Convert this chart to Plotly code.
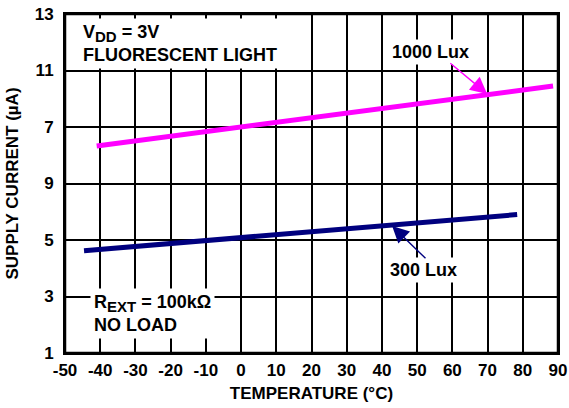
import plotly.graph_objects as go

# Data (y in axis position units)
temp_1000 = [-41, 0, 40, 88.6]
curr_1000 = [8.33, 9.0, 9.66, 10.45]
temp_300 = [-44.6, 0, 40, 78.4]
curr_300 = [4.62, 5.08, 5.5, 5.9]

x_tickvals = list(range(-50, 100, 10))
x_ticktext = ["-50", "-40", "-30", "-20", "-10", "0", "10", "20", "30", "40",
              "50", "60", "70", "80", "90"]
y_tickvals = [1, 3, 5, 7, 9, 11, 13]
y_ticktext = ["1", "3", "5", "9", "7", "11", "13"]

FONT = "Liberation Sans, Arial, sans-serif"

fig = go.Figure()
fig.add_trace(go.Scatter(x=temp_1000, y=curr_1000, mode="lines",
                         line=dict(color="#ff00ff", width=5), showlegend=False))
fig.add_trace(go.Scatter(x=temp_300, y=curr_300, mode="lines",
                         line=dict(color="#00007f", width=5), showlegend=False))

axis_common = dict(showgrid=True, gridcolor="black", gridwidth=2,
                   showline=True, linecolor="black", linewidth=2, mirror=True,
                   ticks="outside", tickcolor="rgba(0,0,0,0)", zeroline=False,
                   automargin=False,
                   tickfont=dict(family=FONT, size=17, color="black", weight="bold"))

fig.update_xaxes(range=[-50, 90], tickvals=x_tickvals, ticktext=x_ticktext, ticklen=1,
                 title=dict(text="TEMPERATURE (°C)", standoff=8,
                            font=dict(family=FONT, size=17, color="black", weight="bold")),
                 **axis_common)
fig.update_yaxes(range=[1, 13], tickvals=y_tickvals, ticktext=y_ticktext, ticklen=6,
                 title=dict(text="SUPPLY CURRENT (µA)", standoff=12,
                            font=dict(family=FONT, size=17, color="black", weight="bold")),
                 **axis_common)

afont = dict(family=FONT, size=18, color="black", weight="bold")
sub = "<sub><span style='font-size:15px'>{}</span></sub>"
ann = [
    dict(x=-46, y=11.95, xref="x", yref="y",
         text="V" + sub.format("DD") + " = 3V<br>FLUORESCENT LIGHT",
         showarrow=False, xanchor="left", yanchor="middle", align="left",
         bgcolor="white", font=afont, borderpad=3),
    dict(x=-43, y=2.4, xref="x", yref="y",
         text="R" + sub.format("EXT") + " = 100kΩ<br>NO LOAD",
         showarrow=False, xanchor="left", yanchor="middle", align="left",
         bgcolor="white", font=afont, borderpad=3),
    dict(x=53.7, y=11.65, xref="x", yref="y", text="1000 Lux", showarrow=False,
         bgcolor="white", font=afont, borderpad=2),
    dict(x=51.7, y=3.94, xref="x", yref="y", text="300 Lux", showarrow=False,
         bgcolor="white", font=afont, borderpad=2),
    dict(x=69.9, y=10.17, xref="x", yref="y", ax=59.0, ay=11.3, axref="x", ayref="y",
         text="", showarrow=True, arrowhead=2, arrowsize=2.4, arrowwidth=1.4,
         arrowcolor="#ff00ff"),
    dict(x=42.9, y=5.5, xref="x", yref="y", ax=52.8, ay=4.3, axref="x", ayref="y",
         text="", showarrow=True, arrowhead=2, arrowsize=2.4, arrowwidth=1.4,
         arrowcolor="#00007f"),
]
fig.update_layout(annotations=ann, width=569, height=408,
                  margin=dict(l=65, r=11, t=14, b=55),
                  plot_bgcolor="white", paper_bgcolor="white",
                  shapes=[dict(type="rect", xref="paper", yref="paper", x0=0, x1=1, y0=0, y1=1,
                               line=dict(color="black", width=2.5), layer="above")])

fig.write_html("out.html", config={"displayModeBar": False},
               post_script="document.body.style.margin='0';document.body.style.overflow='hidden';")
